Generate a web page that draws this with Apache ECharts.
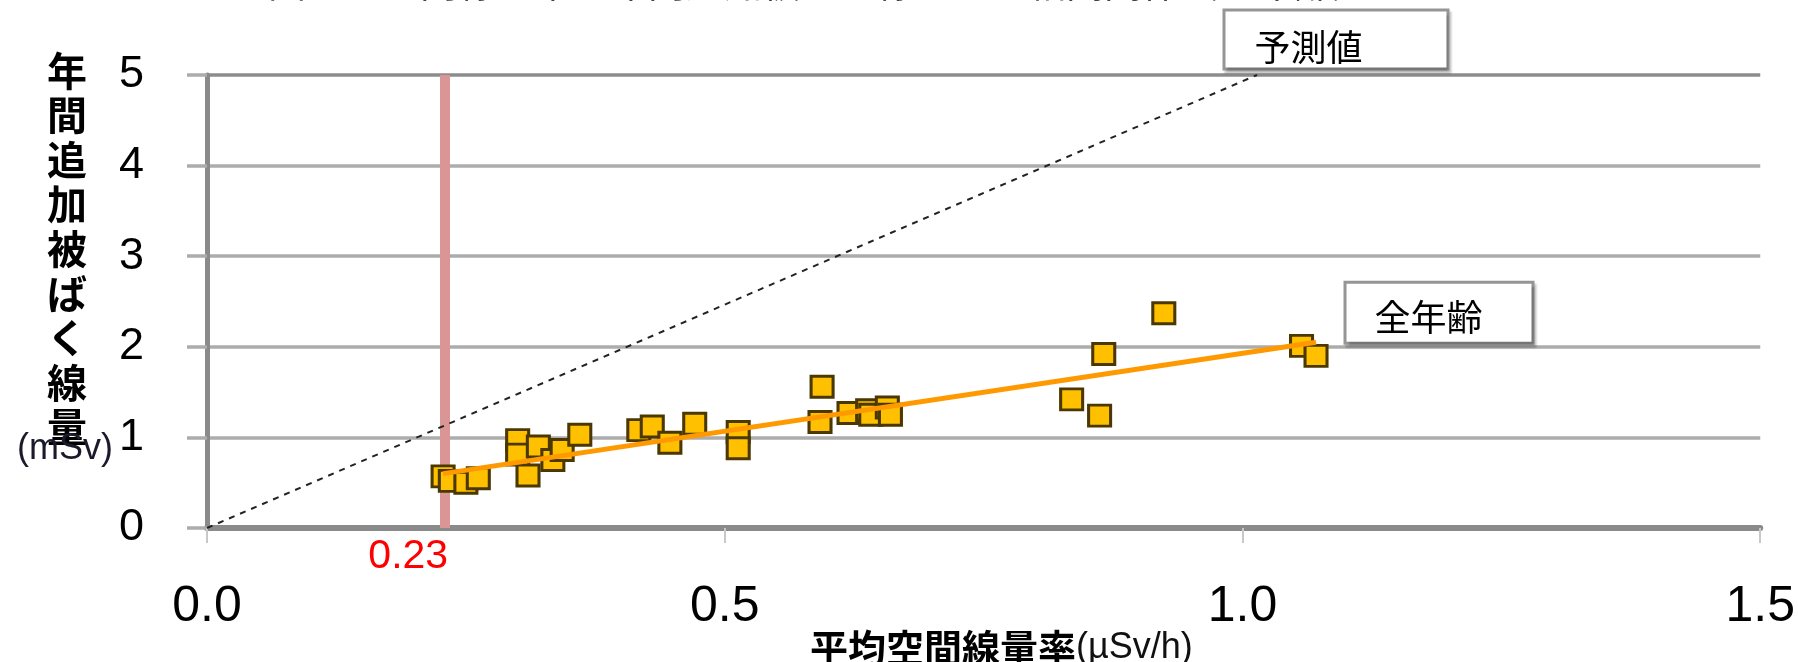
<!DOCTYPE html>
<html>
<head>
<meta charset="utf-8">
<script src="https://cdn.jsdelivr.net/npm/echarts@6/dist/echarts.min.js"></script>
<style>
html,body{margin:0;padding:0;background:#fff;}
#chart{width:1798px;height:662px;}
</style>
</head>
<body>
<div id="chart"></div>
<script>
// ---- data ----
const doseRate = [0.228, 0.235, 0.250, 0.262, 0.300, 0.300, 0.310, 0.320, 0.334, 0.343, 0.360,
                  0.417, 0.430, 0.447, 0.471, 0.513, 0.513, 0.592, 0.594,
                  0.620, 0.638, 0.641, 0.657, 0.660, 0.835, 0.862, 0.866, 0.924, 1.057, 1.071];
const annualDose = [0.57, 0.52, 0.50, 0.55, 0.97, 0.81, 0.58, 0.90, 0.75, 0.86, 1.03,
                    1.08, 1.12, 0.94, 1.15, 1.06, 0.88, 1.17, 1.56,
                    1.27, 1.30, 1.25, 1.33, 1.25, 1.42, 1.24, 1.92, 2.37, 2.01, 1.90];
const predX = [0, 1.014];
const predY = [0, 5];
const trendX = [0.228, 1.071];
const trendY = [0.60, 2.05];
const refRate = 0.23;
const xTicks = [0, 0.5, 1.0, 1.5];
const yTicks = [0, 1, 2, 3, 4, 5];
const predLabel = '予測値';
const trendLabel = '全年齢';
const titleText = '図１　空間線量率と年間追加被ばく線量との相関関係（全年齢）';
const yName = ['年','間','追','加','被','ば','く','線','量'];
const yUnit = '(mSv)';
const xNameMain = '平均空間線量率';
const xNameUnit = '(µSv/h)';

const LATIN = '"Liberation Sans", Arial, sans-serif';
const CJK = '"Noto Sans CJK JP", sans-serif';

const scatterData = doseRate.map((x, i) => [x, annualDose[i]]);

const boxLabel = (text, pos, padding) => ({
  show: true,
  formatter: text,
  position: pos,
  fontFamily: CJK,
  fontSize: 36,
  lineHeight: 40,
  color: '#000',
  backgroundColor: '#fff',
  borderColor: '#959595',
  borderWidth: 3,
  padding: padding,
  shadowColor: 'rgba(0,0,0,0.22)',
  shadowOffsetX: 2,
  shadowOffsetY: 3,
  shadowBlur: 2
});

const predData = predX.map((x, i) => {
  const item = { value: [x, predY[i]] };
  if (i === predX.length - 1) item.label = boxLabel(predLabel, [-31, -63], [16, 84, 0, 29]);
  return item;
});
const trendData = trendX.map((x, i) => {
  const item = { value: [x, trendY[i]] };
  if (i === trendX.length - 1) item.label = boxLabel(trendLabel, [31, -58], [14, 49, 4, 28]);
  return item;
});

const chart = echarts.init(document.getElementById('chart'), null, { renderer: 'canvas' });
chart.setOption({
  animation: false,
  backgroundColor: '#fff',
  title: [
    { text: titleText, left: 263, top: -41,
      textStyle: { fontFamily: CJK, fontSize: 38, fontWeight: 'normal', color: '#444' } },
    { text: yName.join('\n'), left: 42, top: 43,
      textStyle: { fontFamily: CJK, fontSize: 40, lineHeight: 44.6, fontWeight: 'bold', color: '#000' } },
    { text: yUnit, left: 12, top: 426,
      textStyle: { fontFamily: LATIN, fontSize: 36, fontWeight: 'normal', color: '#1a1a2a' } },
    { text: '{a|' + xNameMain + '}{b|' + xNameUnit + '}', left: 805, top: 621,
      textStyle: {
        rich: {
          a: { fontFamily: CJK, fontSize: 38, fontWeight: 'bold', color: '#000', lineHeight: 44 },
          b: { fontFamily: LATIN, fontSize: 36, fontWeight: 'normal', color: '#111', lineHeight: 44 }
        }
      } }
  ],
  grid: { left: 207, right: 35, top: 75, bottom: 134, containLabel: false },
  xAxis: {
    type: 'value',
    min: xTicks[0], max: xTicks[xTicks.length - 1], interval: 0.5,
    axisLine: { show: true, onZero: false, lineStyle: { color: '#8a8a8a', width: 6 } },
    axisTick: { show: true, length: 15, lineStyle: { color: '#c8c8c8', width: 2 } },
    splitLine: { show: false },
    axisLabel: {
      margin: 54, fontFamily: LATIN, fontSize: 50, color: '#000',
      formatter: v => v.toFixed(1)
    }
  },
  yAxis: {
    type: 'value',
    min: yTicks[0], max: yTicks[yTicks.length - 1], interval: 1,
    axisLine: { show: true, onZero: false, lineStyle: { color: '#8a8a8a', width: 5 } },
    axisTick: { show: true, length: 20, lineStyle: { color: '#acacac', width: 3.5 } },
    splitLine: { show: true, lineStyle: { color: ['#acacac','#acacac','#acacac','#acacac','#acacac','#8c8c8c'], width: 3.5 } },
    axisLabel: { margin: 63, fontFamily: LATIN, fontSize: 45, color: '#000' }
  },
  series: [
    {
      name: 'pred', type: 'line', z: 2,
      data: predData,
      symbol: 'circle', symbolSize: 1,
      itemStyle: { color: 'rgba(0,0,0,0)' },
      lineStyle: { color: '#222', width: 2, type: [6, 6] },
      label: { show: false },
      markLine: {
        silent: true, symbol: 'none', z: 2,
        lineStyle: { color: '#d99694', width: 10, type: 'solid' },
        label: {
          show: true, position: 'start', formatter: String(refRate),
          color: '#ff0000', fontFamily: LATIN, fontSize: 41, distance: 8,
          align: 'right', offset: [3, 0]
        },
        data: [{ xAxis: refRate }]
      }
    },
    {
      name: 'points', type: 'scatter', z: 3,
      data: scatterData,
      symbol: 'rect', symbolSize: [22, 21],
      itemStyle: { color: '#ffc000', borderColor: '#4a3800', borderWidth: 3, opacity: 1 }
    },
    {
      name: 'trend', type: 'line', z: 4,
      data: trendData,
      symbol: 'circle', symbolSize: 1,
      itemStyle: { color: 'rgba(0,0,0,0)' },
      lineStyle: { color: '#ff9900', width: 5 },
      label: { show: false }
    }
  ]
});
</script>
</body>
</html>
